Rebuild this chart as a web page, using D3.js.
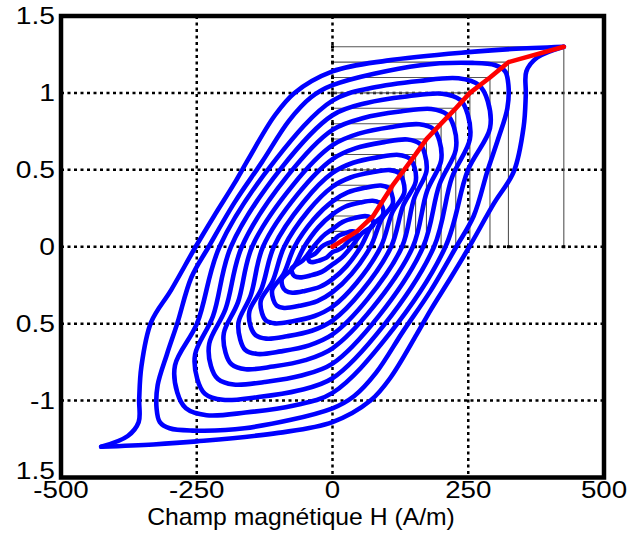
<!DOCTYPE html>
<html><head><meta charset="utf-8">
<script src="https://cdn.jsdelivr.net/npm/d3@7/dist/d3.min.js"></script>
<style>body{margin:0;background:#fff}svg{display:block}</style>
</head><body><svg id="chart" width="643" height="539"></svg>
<script>
// ---- data ----
const xTicks = [-500, -250, 0, 250, 500];
const xTickLabels = ["-500", "-250", "0", "250", "500"];
const yTicks = [1.5, 1, 0.5, 0, -0.5, -1, -1.5];
const yTickLabels = ["1.5", "1", "0.5", "0", "0.5", "-1", "1.5"];
const xGrid = [-250, 0, 250];
const yGrid = [1, 0.5, 0, -0.5, -1];
const xLabel = "Champ magnétique H (A/m)";

// loop tips (H max, B max)
const tipH = [45, 75, 93, 111, 132, 153, 173, 200, 227, 253, 290, 324, 426];
const tipB = [0.1, 0.2, 0.3, 0.4, 0.5, 0.6, 0.7, 0.8, 0.9, 1.0, 1.1, 1.2, 1.3];

// first magnetisation curve (red)
const curveH = [0, 45, 75, 93, 111, 132, 153, 173, 200, 227, 253, 290, 324, 426];
const curveB = [0, 0.1, 0.2, 0.3, 0.4, 0.5, 0.6, 0.7, 0.8, 0.9, 1.0, 1.1, 1.2, 1.3];

// half of each minor loop [H, B], from its right side over the top to the left;
// the other half is its point reflection through the origin
const loop1 = [[45,0.07],[44,0.086],[42,0.096],[36,0.1],[25,0.09],[11,0.071],[0,0.035],[-10,0.021],[-20,0],[-32,-0.045]];
const loop2 = [[75,0.14],[74,0.172],[70,0.191],[60,0.199],[41,0.187],[19,0.162],[0,0.115],[-17.5,0.069],[-35,0],[-55,-0.09]];
const loop3 = [[93,0.21],[92,0.258],[86,0.287],[74,0.299],[51,0.287],[23,0.26],[0,0.21],[-26,0.126],[-52,0],[-72,-0.135]];
const loop4 = [[111,0.28],[109,0.344],[103,0.382],[89,0.398],[61,0.384],[28,0.353],[0,0.295],[-35,0.177],[-70,0],[-90.5,-0.18]];
const loop5 = [[132,0.35],[130,0.43],[123,0.478],[106,0.498],[73,0.484],[33,0.45],[0,0.39],[-44.5,0.234],[-89,0],[-110.5,-0.225]];
const loop6 = [[153,0.42],[151,0.516],[142,0.573],[122,0.597],[84,0.582],[38,0.546],[0,0.48],[-54,0.288],[-108,0],[-130.5,-0.27]];
const loop7 = [[173,0.49],[170,0.602],[161,0.669],[138,0.697],[95,0.68],[43,0.641],[0,0.57],[-64,0.342],[-128,0],[-150.5,-0.315]];
const loop8 = [[200,0.56],[197,0.688],[186,0.764],[160,0.796],[110,0.779],[50,0.737],[0,0.66],[-74,0.396],[-148,0],[-174,-0.36]];
const loop9 = [[227,0.63],[224,0.774],[211,0.86],[182,0.896],[125,0.879],[57,0.837],[0,0.76],[-84,0.456],[-167,0],[-197,-0.405]];
const loop10 = [[253,0.70],[249,0.86],[235,0.955],[202,0.995],[139,0.978],[63,0.935],[0,0.855],[-94,0.513],[-187,0],[-220,-0.45]];
const loop11 = [[290,0.77],[286,0.946],[270,1.05],[232,1.095],[160,1.078],[73,1.033],[0,0.95],[-104,0.57],[-208,0],[-249,-0.495]];
const loop12 = [[322,0.9],[324,1.05],[318,1.14],[300,1.18],[258,1.195],[162,1.18],[0,1.05],[-40,0.97],[-80,0.82],[-130,0.55],[-180,0.29],[-228,0],[-260,-0.2],[-286,-0.5],[-305,-0.7]];
const minorLoops = [loop1, loop2, loop3, loop4, loop5, loop6, loop7, loop8, loop9, loop10, loop11, loop12];

// major (saturation) loop: descending branch from tip to tip; ascending = point reflection
const majorDescending = [[426,1.3],[330,1.285],[250,1.265],[100,1.21],[0,1.14],[-70,1.0],[-107,0.85],[-155,0.57],[-181,0.41],[-218,0.2],[-252,0],[-297,-0.28],[-334,-0.49],[-352,-0.78],[-356,-0.99],[-357,-1.14],[-377,-1.23],[-426,-1.3]];

// ---- layout ----
const L = 61, R = 604, T = 16, B = 477.5;
const svg = d3.select("#chart");
const x = d3.scaleLinear().domain([-500, 500]).range([L, R]);
const y = d3.scaleLinear().domain([-1.5, 1.5]).range([B, T]);
const font = "'Liberation Sans', Arial, sans-serif";
const reflect = p => [-p[0], -p[1]];

// grid (dotted)
const g = svg.append("g");
g.selectAll(".gx").data(xGrid).join("line")
  .attr("x1", d => x(d)).attr("x2", d => x(d)).attr("y1", T).attr("y2", B)
  .attr("stroke", "#000").attr("stroke-width", 2.5).attr("stroke-dasharray", "3,3.5");
g.selectAll(".gy").data(yGrid).join("line")
  .attr("y1", d => y(d)).attr("y2", d => y(d)).attr("x1", L).attr("x2", R)
  .attr("stroke", "#000").attr("stroke-width", 2.5).attr("stroke-dasharray", "3,3.5");

// thin guide lines to each tip
const tips = tipH.map((h, i) => [h, tipB[i]]);
svg.append("g").selectAll("path").data(tips).join("path")
  .attr("d", d => `M${x(0)},${y(d[1])}H${x(d[0])}V${y(0)}`)
  .attr("fill", "none").attr("stroke", "#555").attr("stroke-width", 1.1);
svg.append("g").selectAll("rect").data(tips.flatMap(d => [[0, d[1]], [d[0], 0]])).join("rect")
  .attr("x", d => x(d[0]) - 1.5).attr("y", d => y(d[1]) - 1.5).attr("width", 3).attr("height", 3).attr("fill", "#000");

// hysteresis loops
const blue = sel => sel.attr("fill", "none").attr("stroke", "#0000ff").attr("stroke-width", 4.6)
  .attr("stroke-linecap", "round").attr("stroke-linejoin", "round");
const closedLine = d3.line().x(d => x(d[0])).y(d => y(d[1])).curve(d3.curveCatmullRomClosed.alpha(0.5));
const openLine = d3.line().x(d => x(d[0])).y(d => y(d[1])).curve(d3.curveCatmullRom.alpha(0.5));
const lg = svg.append("g");
minorLoops.forEach(half => {
  lg.append("path").attr("d", closedLine(half.concat(half.map(reflect)))).call(blue);
});
lg.append("path").attr("d", openLine(majorDescending)).call(blue);
lg.append("path").attr("d", openLine(majorDescending.map(reflect))).call(blue);

// red first magnetisation curve
const red = curveH.map((h, i) => [h, curveB[i]]);
svg.append("path").attr("d", d3.line().x(d => x(d[0])).y(d => y(d[1]))(red))
  .attr("fill", "none").attr("stroke", "#ff0000").attr("stroke-width", 4.6)
  .attr("stroke-linecap", "round").attr("stroke-linejoin", "round");

// frame
svg.append("rect").attr("x", L).attr("y", T).attr("width", R - L).attr("height", B - T)
  .attr("fill", "none").attr("stroke", "#000").attr("stroke-width", 4.5);

// tick labels
svg.append("g").selectAll("text").data(xTicks).join("text")
  .attr("transform", d => `translate(${x(d)},498) scale(1.18,1)`).attr("text-anchor", "middle")
  .attr("font-family", font).attr("font-size", 23.5).text((d, i) => xTickLabels[i]);
svg.append("g").selectAll("text").data(yTicks).join("text")
  .attr("transform", d => `translate(55,${d === -1.5 ? y(d) - 7 : y(d)}) scale(1.2,1)`)
  .attr("dy", "0.35em").attr("text-anchor", "end")
  .attr("font-family", font).attr("font-size", 23.5).text((d, i) => yTickLabels[i]);

// axis label
svg.append("text").attr("transform", "translate(301,525) scale(1.03,1)").attr("text-anchor", "middle")
  .attr("font-family", font).attr("font-size", 24).text(xLabel);
</script></body></html>
